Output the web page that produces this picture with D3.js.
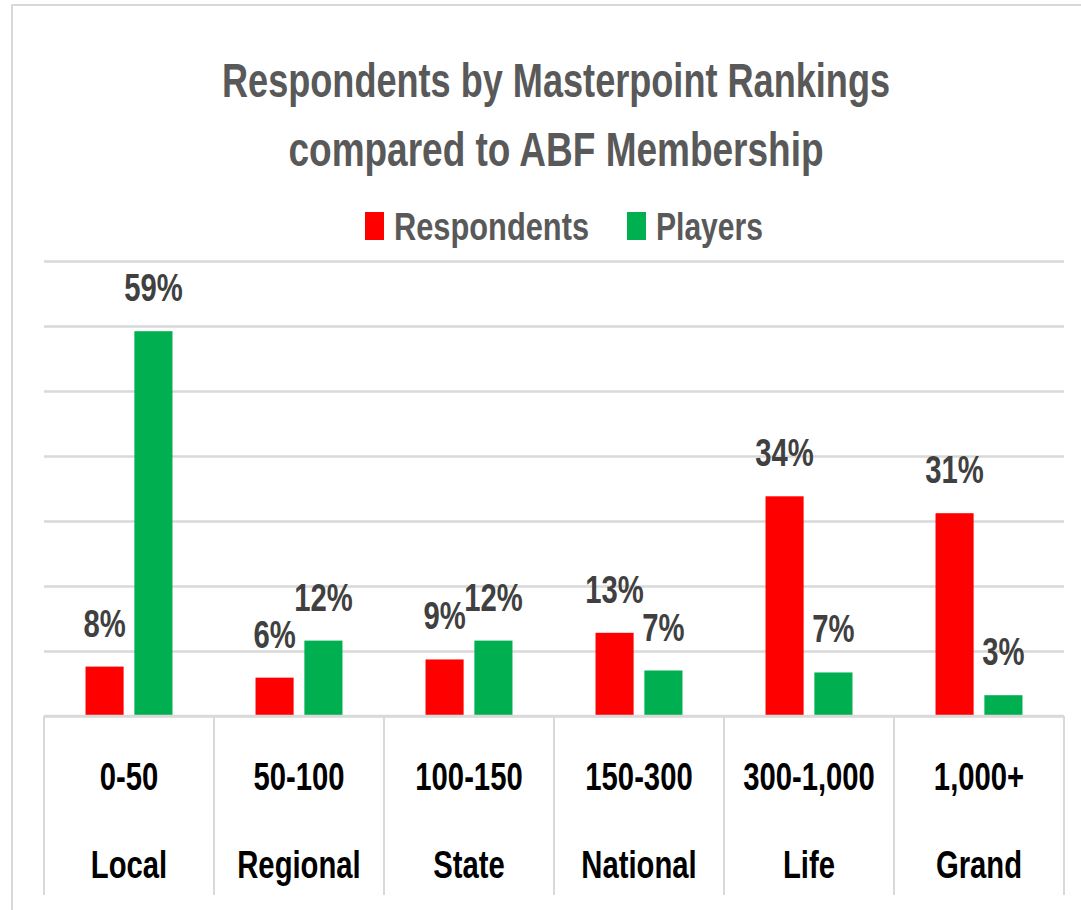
<!DOCTYPE html>
<html>
<head>
<meta charset="utf-8">
<script src="https://cdn.jsdelivr.net/npm/d3@7/dist/d3.min.js"></script>
<style>
  body { margin: 0; background: #fff; }
  text { font-family: "Liberation Sans", Arial, sans-serif; font-weight: bold; }
</style>
</head>
<body>
<div class="root"></div>
<script>
// data
const ranges = ['0-50', '50-100', '100-150', '150-300', '300-1,000', '1,000+'];
const grades = ['Local', 'Regional', 'State', 'National', 'Life', 'Grand'];
const seriesNames = ['Respondents', 'Players'];
const respondents = [0.076, 0.059, 0.087, 0.128, 0.338, 0.312];
const players = [0.592, 0.116, 0.116, 0.070, 0.067, 0.032];
const titleLines = ['Respondents by Masterpoint Rankings', 'compared to ABF Membership'];

const colors = { Respondents: '#ff0000', Players: '#00b050' };
const squeeze = 0.75; // source text is horizontally compressed

const width = 1081, height = 910;
const svg = d3.select('.root')
  .append('svg')
  .attr('width', width)
  .attr('height', height);

// chart frame
svg.append('rect')
  .attr('x', 12).attr('y', 5)
  .attr('width', width + 20).attr('height', height + 20)
  .attr('fill', 'none')
  .attr('stroke', '#d9d9d9')
  .attr('stroke-width', 2);

const plot = { left: 44, right: 1064, top: 261, bottom: 716 };
const labelBottom = 895;

const x0 = d3.scaleBand()
  .domain(ranges)
  .range([plot.left, plot.right]);

const x1 = d3.scaleBand()
  .domain(seriesNames)
  .range([0, x0.bandwidth()])
  .paddingInner(0.22)
  .paddingOuter(0.85);

const y = d3.scaleLinear()
  .domain([0, 0.7])
  .range([plot.bottom, plot.top]);

// gridlines
const grid = svg.append('g')
  .attr('transform', `translate(${plot.left},0)`)
  .call(d3.axisLeft(y).ticks(7).tickSize(-(plot.right - plot.left)).tickFormat(''));
grid.select('.domain').remove();
grid.selectAll('line').attr('stroke', '#d9d9d9').attr('stroke-width', 2.5);

const txt = (g, x, yy, str, size, fill, sx = squeeze, anchor = 'middle') =>
  g.append('text')
    .attr('transform', `translate(${x},${yy}) scale(${sx},1)`)
    .attr('text-anchor', anchor)
    .attr('font-size', size)
    .attr('fill', fill)
    .text(str);

// squeeze a text so it spans a given width
const fitTo = (sel, w) => {
  const natural = sel.node().getComputedTextLength();
  const t = sel.attr('transform').replace(/scale\([^)]*\)/, `scale(${w / natural},1)`);
  sel.attr('transform', t);
};

// category separators
const seps = ranges.map(d => x0(d)).concat([plot.right]);
svg.selectAll('.sep')
  .data(seps)
  .enter()
  .append('line')
  .attr('class', 'sep')
  .attr('x1', d => d).attr('x2', d => d)
  .attr('y1', plot.bottom).attr('y2', labelBottom)
  .attr('stroke', '#d9d9d9')
  .attr('stroke-width', 2);

// bars
const rows = ranges.map((r, i) => ({
  range: r,
  values: [
    { key: 'Respondents', value: respondents[i] },
    { key: 'Players', value: players[i] }
  ]
}));

const fmt = d3.format('.0%');
const groups = svg.selectAll('.grp')
  .data(rows)
  .enter()
  .append('g')
  .attr('class', 'grp')
  .attr('transform', d => `translate(${x0(d.range)},0)`);

groups.selectAll('rect')
  .data(d => d.values)
  .enter()
  .append('rect')
  .attr('x', d => x1(d.key))
  .attr('y', d => y(d.value))
  .attr('width', x1.bandwidth())
  .attr('height', d => y(0) - y(d.value))
  .attr('fill', d => colors[d.key]);

groups.each(function(d) {
  const g = d3.select(this);
  d.values.forEach(v => {
    txt(g, x1(v.key) + x1.bandwidth() / 2, y(v.value) - 30, fmt(v.value), 39, '#404040');
  });
});

// baseline
svg.append('line')
  .attr('x1', plot.left).attr('x2', plot.right)
  .attr('y1', plot.bottom).attr('y2', plot.bottom)
  .attr('stroke', '#d9d9d9')
  .attr('stroke-width', 2.5);

// category labels
ranges.forEach((r, i) => {
  const cx = x0(r) + x0.bandwidth() / 2;
  txt(svg, cx, 790, r, 39, '#000');
  txt(svg, cx, 878, grades[i], 39, '#000');
});

// title
const titleY = [97, 166];
const titleW = [668, 535];
titleLines.forEach((t, i) => {
  fitTo(txt(svg, 556, titleY[i], t, 49, '#595959'), titleW[i]);
});

// legend
const legendX = [365, 627];
const legendW = [195, 107];
seriesNames.forEach((s, i) => {
  svg.append('rect')
    .attr('x', legendX[i]).attr('y', 212)
    .attr('width', 19).attr('height', 28)
    .attr('fill', colors[s]);
  fitTo(txt(svg, legendX[i] + 29, 240, s, 38, '#595959', squeeze, 'start'), legendW[i]);
});
</script>
</body>
</html>
